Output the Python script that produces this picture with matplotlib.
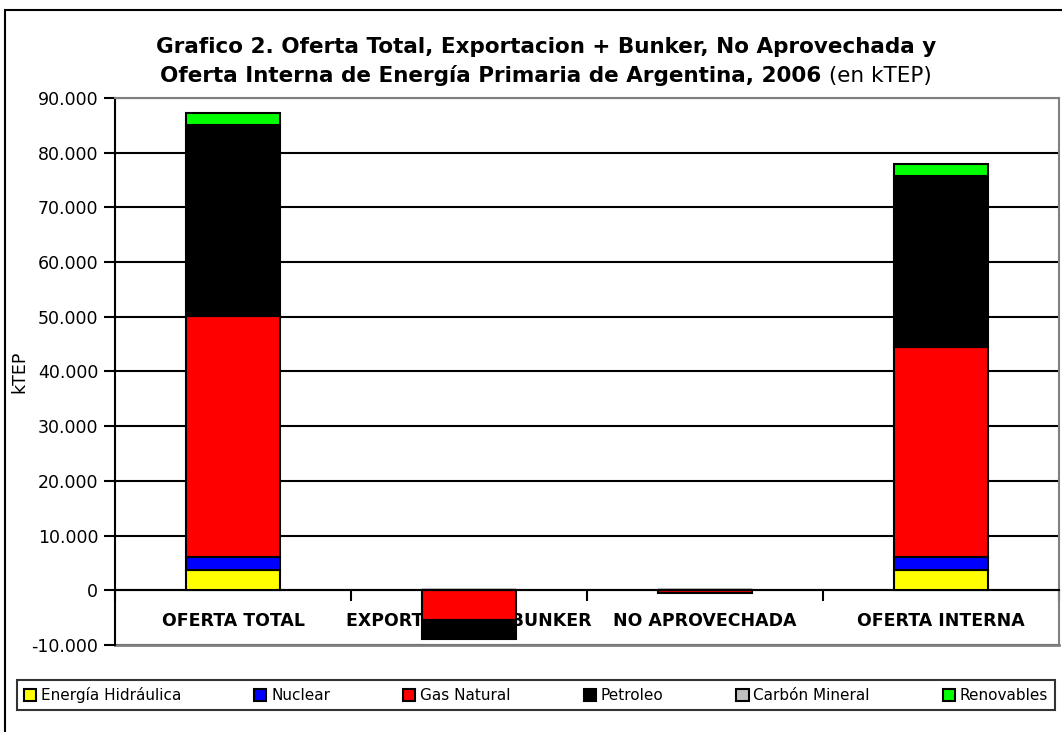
import numpy as np
import matplotlib
matplotlib.use("Agg")
import matplotlib.pyplot as plt
from matplotlib.patches import Rectangle
from matplotlib.ticker import FuncFormatter, FixedLocator
import matplotlib.transforms as mtransforms

# datos (kTEP)
categorias = ["OFERTA TOTAL", "EXPORTACION + BUNKER", "NO APROVECHADA", "OFERTA INTERNA"]
hidraulica = [3800, 0, 0, 3700]
nuclear = [2300, 0, 0, 2400]
gas_natural = [44100, -5500, -550, 38300]
petroleo = [34900, -3400, 0, 31300]
carbon = [0, 0, 0, 0]
renovables = [2200, 0, 0, 2300]

series = [
    ("Energía Hidráulica", hidraulica, "#FFFF00"),
    ("Nuclear", nuclear, "#0000FF"),
    ("Gas Natural", gas_natural, "#FF0000"),
    ("Petroleo", petroleo, "#000000"),
    ("Carbón Mineral", carbon, "#C0C0C0"),
    ("Renovables", renovables, "#00FF00"),
]

W, H = 1062, 732
fig = plt.figure(figsize=(W / 100, H / 100), dpi=100)
ax = fig.add_axes([115 / W, 1 - 645 / H, (1059 - 115) / W, (645 - 98) / H])

x = np.arange(len(categorias))
pos_base = np.zeros(len(categorias))
neg_base = np.zeros(len(categorias))
handles = []
for nombre, vals, color in series:
    vals = np.array(vals, dtype=float)
    base = np.where(vals >= 0, pos_base, neg_base)
    b = ax.bar(x, vals, width=0.4, bottom=base, color=color, edgecolor="black",
               linewidth=1.5, zorder=3, label=nombre)
    handles.append(b)
    pos_base = pos_base + np.where(vals > 0, vals, 0)
    neg_base = neg_base + np.where(vals < 0, vals, 0)

ax.set_xlim(-0.5, len(categorias) - 0.5)
ax.set_ylim(-10000, 90000)
ax.yaxis.set_major_locator(FixedLocator(np.arange(-10000, 90001, 10000)))
ax.yaxis.set_major_formatter(FuncFormatter(lambda v, p: f"{int(v):,}".replace(",", ".")))
ax.grid(axis="y", color="black", linewidth=1.5, zorder=0)
ax.set_axisbelow(True)
ax.tick_params(axis="y", direction="out", length=8, width=1.5, labelsize=12.5, pad=4)

# eje x en el cero, marcas entre categorias
ax.spines["bottom"].set_position(("data", 0))
ax.spines["bottom"].set_linewidth(1.5)
ax.spines["left"].set_linewidth(1.5)
for s in ("top", "right"):
    ax.spines[s].set_color("#808080")
    ax.spines[s].set_linewidth(1.5)
ax.axhline(-10000, color="#808080", linewidth=2, clip_on=False, zorder=1)
ax.xaxis.set_major_locator(FixedLocator(np.arange(-0.5, len(categorias), 1.0)))
ax.set_xticklabels([])
ax.tick_params(axis="x", direction="out", length=8, width=1.5)

trans = mtransforms.blended_transform_factory(ax.transData, ax.transAxes)
for xi, c in zip(x, categorias):
    ax.text(xi, (645 - 621) / 547, c, transform=trans, ha="center", va="center",
            fontsize=12.5, fontweight="bold", zorder=1)

ax.set_ylabel("kTEP", fontsize=12.5)
ax.yaxis.set_label_coords(-(115 - 28) / (1059 - 115), 0.5)

# titulo
fig.text(546 / W, 1 - 47 / H, "Grafico 2. Oferta Total, Exportacion + Bunker, No Aprovechada y",
         ha="center", va="center", fontsize=15.5, fontweight="bold")
t1 = fig.text(0, 1 - 76 / H, "Oferta Interna de Energía Primaria de Argentina, 2006",
              ha="left", va="center", fontsize=15.5, fontweight="bold")
t2 = fig.text(0, 1 - 76 / H, " (en kTEP)", ha="left", va="center", fontsize=15.5)
r = fig.canvas.get_renderer()
w1 = t1.get_window_extent(r).width
w2 = t2.get_window_extent(r).width
x0 = 546 - (w1 + w2) / 2
t1.set_x(x0 / W)
t2.set_x((x0 + w1) / W)

leg = fig.legend(handles=handles, loc="lower left", ncol=6, mode="expand",
                 bbox_to_anchor=(17 / W, 1 - 710 / H, (1055 - 17) / W, 37 / H),
                 fontsize=11, frameon=True, fancybox=False, borderaxespad=0,
                 handlelength=0.8, handleheight=0.8, handletextpad=0.3,
                 columnspacing=1.0, borderpad=0.45)
leg.get_frame().set_edgecolor("black")
leg.get_frame().set_linewidth(1.5)

fig.patches.append(Rectangle((5 / W, -0.1), 1.2, 1.1 - 10 / H, transform=fig.transFigure,
                             fill=False, edgecolor="black", linewidth=1.5))

fig.savefig("out.png", dpi=100)
